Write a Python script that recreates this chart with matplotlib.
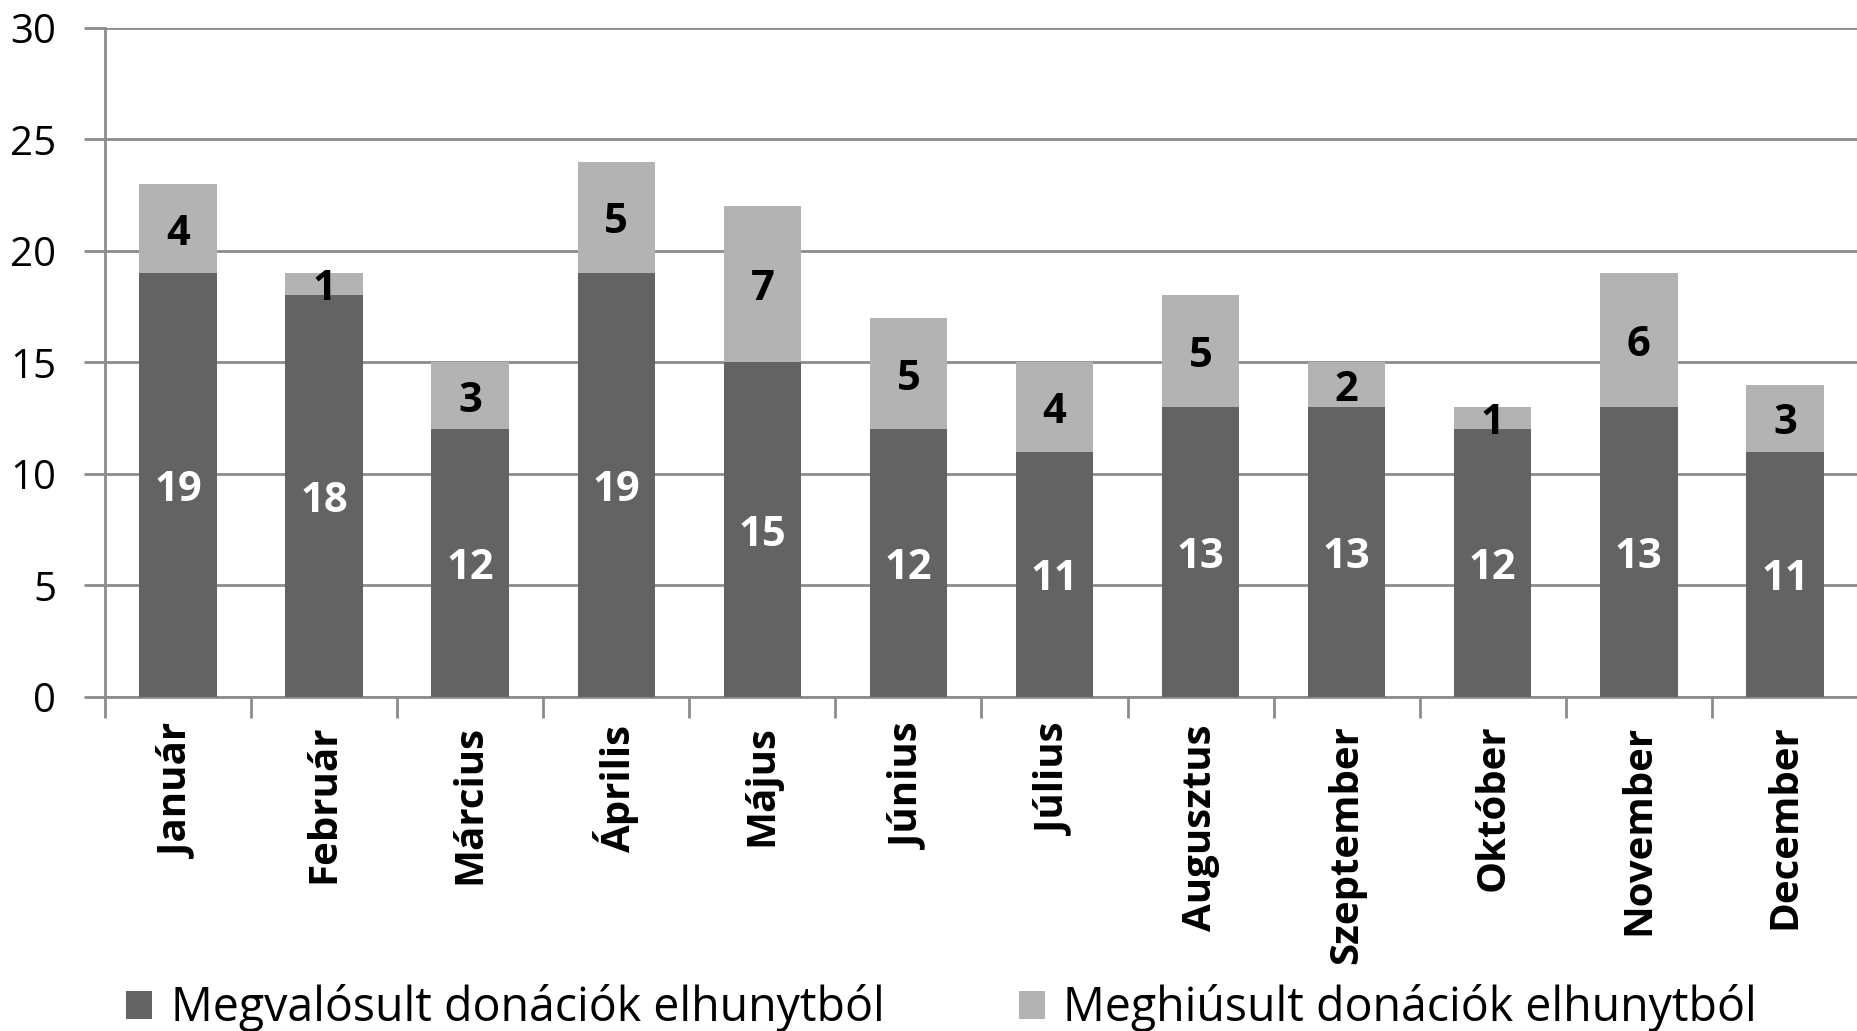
import matplotlib
matplotlib.use("Agg")
import matplotlib.pyplot as plt
from matplotlib.ticker import FixedLocator
import numpy as np

# data
months = ["Január", "Február", "Március", "Április", "Május", "Június",
          "Július", "Augusztus", "Szeptember", "Október", "November", "December"]
realised = [19, 18, 12, 19, 15, 12, 11, 13, 13, 12, 13, 11]
failed = [4, 1, 3, 5, 7, 5, 4, 5, 2, 1, 6, 3]
seriesNames = ["Megvalósult donációk elhunytból", "Meghiúsult donációk elhunytból"]

darkColor = "#636363"
lightColor = "#b3b3b3"
gridColor = "#8c8c8c"

plt.rcParams['font.family'] = ['Open Sans', 'DejaVu Sans']

fig = plt.figure(figsize=(18.58, 10.31), dpi=100, facecolor='w')
ax = fig.add_axes([0.0565, 0.324, 0.9435, 0.649])

x = np.arange(len(months))
barWidth = 0.53
b1 = ax.bar(x, realised, barWidth, color=darkColor, label=seriesNames[0], zorder=3)
b2 = ax.bar(x, failed, barWidth, bottom=realised, color=lightColor, label=seriesNames[1], zorder=3)

lab1 = ax.bar_label(b1, labels=[str(v) for v in realised], label_type='center',
                    color='white', fontsize=30, fontweight='bold')
lab2 = ax.bar_label(b2, labels=[str(v) for v in failed], label_type='center',
                    color='black', fontsize=30, fontweight='bold')
# nudge labels down a little, like the original
for t in list(lab1) + list(lab2):
    t.xyann = (0, -4)

ax.set_ylim(0, 30)
ax.set_xlim(-0.5, len(months) - 0.5)
ax.set_yticks(range(0, 31, 5))
ax.grid(axis='y', color=gridColor, linewidth=2, zorder=0)
ax.tick_params(axis='y', labelsize=29, length=15, width=2, color=gridColor, pad=20)

ax.set_xticks(x)
ax.set_xticklabels(months, rotation=90, fontsize=29, fontweight='bold')
ax.tick_params(axis='x', which='major', length=0, pad=20)
ax.xaxis.set_minor_locator(FixedLocator(np.arange(-0.5, len(months), 1.0)))
ax.tick_params(axis='x', which='minor', length=15, width=2, color=gridColor)

for s in ['top', 'right']:
    ax.spines[s].set_visible(False)
for s in ['left', 'bottom']:
    ax.spines[s].set_color(gridColor)
    ax.spines[s].set_linewidth(2)

fig.legend(handles=[b1, b2], labels=seriesNames, loc='center left',
           bbox_to_anchor=(0.058, 0.022), ncol=2, frameon=False, fontsize=33.5,
           handlelength=0.55, handleheight=0.55, handletextpad=0.4,
           columnspacing=2.9, borderaxespad=0)

fig.savefig("out.png", dpi=100)
